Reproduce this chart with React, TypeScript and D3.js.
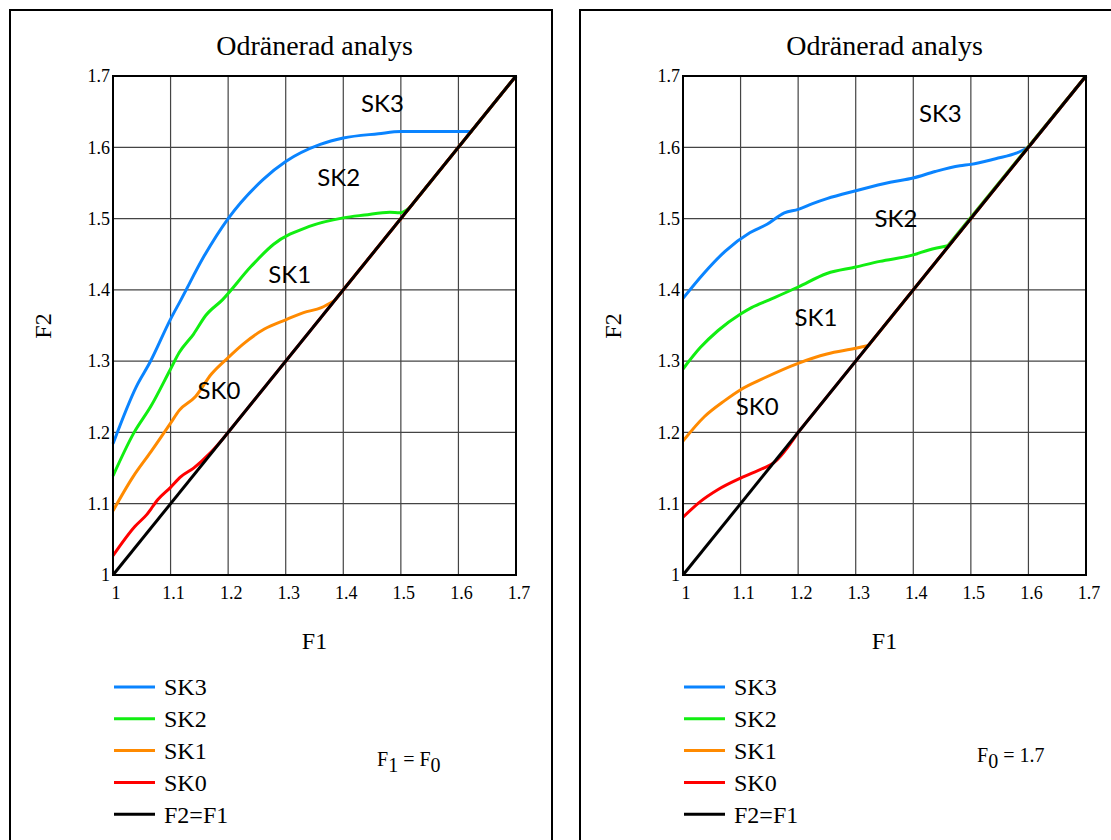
import * as d3 from 'd3'

type Pt = [number, number]

// F1 ticks shared by both panels
const ticks = [1, 1.1, 1.2, 1.3, 1.4, 1.5, 1.6, 1.7]
const seriesNames = ['SK3', 'SK2', 'SK1', 'SK0', 'F2=F1']
const seriesColors = ['#0a84ff', '#11ee11', '#ff8a00', '#ff0000', '#000000']

// left panel: F1 = F0 (last point: the curve follows F2=F1 up to 1.7)
const leftSK3: Pt[] = [[1, 1.184], [1.041, 1.265], [1.064, 1.298], [1.1, 1.359], [1.118, 1.386], [1.158, 1.447], [1.2, 1.5], [1.261, 1.555], [1.3, 1.58], [1.36, 1.604], [1.4, 1.613], [1.461, 1.619], [1.5, 1.622], [1.617, 1.622], [1.622, 1.622], [1.7, 1.7]]
const leftSK2: Pt[] = [[1, 1.139], [1.036, 1.199], [1.066, 1.237], [1.1, 1.289], [1.115, 1.312], [1.14, 1.338], [1.161, 1.364], [1.19, 1.386], [1.24, 1.433], [1.279, 1.464], [1.341, 1.489], [1.4, 1.501], [1.437, 1.505], [1.481, 1.509], [1.498, 1.508], [1.515, 1.515], [1.7, 1.7]]
const leftSK1: Pt[] = [[1, 1.09], [1.035, 1.138], [1.066, 1.173], [1.1, 1.213], [1.115, 1.231], [1.143, 1.25], [1.171, 1.282], [1.2, 1.305], [1.226, 1.324], [1.263, 1.345], [1.3, 1.358], [1.331, 1.368], [1.362, 1.375], [1.385, 1.385], [1.7, 1.7]]
const leftSK0: Pt[] = [[1, 1.027], [1.038, 1.068], [1.059, 1.085], [1.078, 1.106], [1.1, 1.123], [1.118, 1.138], [1.14, 1.15], [1.17, 1.172], [1.2, 1.2], [1.7, 1.7]]

// right panel: F0 = 1.7
const rightSK3: Pt[] = [[1, 1.388], [1.036, 1.423], [1.073, 1.454], [1.116, 1.48], [1.146, 1.492], [1.176, 1.508], [1.2, 1.513], [1.225, 1.521], [1.25, 1.528], [1.3, 1.539], [1.36, 1.551], [1.4, 1.557], [1.438, 1.566], [1.481, 1.574], [1.5, 1.576], [1.543, 1.584], [1.58, 1.592], [1.6, 1.6], [1.7, 1.7]]
const rightSK2: Pt[] = [[1, 1.289], [1.03, 1.319], [1.061, 1.343], [1.1, 1.366], [1.119, 1.375], [1.15, 1.386], [1.2, 1.404], [1.25, 1.423], [1.3, 1.432], [1.342, 1.44], [1.4, 1.449], [1.427, 1.456], [1.46, 1.462], [1.7, 1.7]]
const rightSK1: Pt[] = [[1, 1.188], [1.037, 1.222], [1.073, 1.245], [1.1, 1.26], [1.14, 1.276], [1.2, 1.297], [1.25, 1.31], [1.3, 1.318], [1.322, 1.322], [1.7, 1.7]]
const rightSK0: Pt[] = [[1, 1.081], [1.03, 1.103], [1.061, 1.12], [1.1, 1.136], [1.14, 1.15], [1.157, 1.157], [1.2, 1.2], [1.7, 1.7]]

const diagonal: Pt[] = [[1, 1], [1.7, 1.7]]

interface PanelProps {
  x0: number
  series: Pt[][]
  labels: { text: string; at: Pt }[]
  note: { main: string; sub: string; rest: string; sub2?: string; x: number; y: number }
}

const serif = '"Liberation Serif", "Times New Roman", serif'

function Panel({ x0, series, labels, note }: PanelProps) {
  const left = x0
  const right = x0 + 403
  const top = 76
  const bottom = 575
  const x = d3.scaleLinear().domain([1, 1.7]).range([left, right])
  const y = d3.scaleLinear().domain([1, 1.7]).range([bottom, top])
  const smooth = d3.line<Pt>().x(d => x(d[0])).y(d => y(d[1])).curve(d3.curveMonotoneX)
  const straight = d3.line<Pt>().x(d => x(d[0])).y(d => y(d[1]))
  const cx = (left + right) / 2

  return (
    <g>
      <text x={cx} y={55} textAnchor="middle" fontFamily={serif} fontSize={28}>Odränerad analys</text>
      {ticks.slice(1, -1).map(t => (
        <g key={'g' + t}>
          <line x1={x(t)} x2={x(t)} y1={top} y2={bottom} stroke="#444" strokeWidth={1.2} />
          <line x1={left} x2={right} y1={y(t)} y2={y(t)} stroke="#444" strokeWidth={1.2} />
        </g>
      ))}
      {ticks.map(t => (
        <g key={'t' + t}>
          <text x={left - 3} y={y(t)} dy="0.35em" textAnchor="end" fontFamily={serif} fontSize={18}>{t}</text>
          <text x={x(t) + 3} y={599} textAnchor="middle" fontFamily={serif} fontSize={18}>{t}</text>
        </g>
      ))}
      {series.map((s, i) => (
        <g key={i}>
          <path d={smooth(s.slice(0, -1)) ?? ''} fill="none" stroke={seriesColors[i]} strokeWidth={3} />
          <path d={straight(s.slice(-2)) ?? ''} fill="none" stroke={seriesColors[i]} strokeWidth={3} />
        </g>
      ))}
      <path d={straight(diagonal) ?? ''} fill="none" stroke="#000" strokeWidth={3} />
      <rect x={left} y={top} width={right - left} height={bottom - top} fill="none" stroke="#000" strokeWidth={2} />
      {labels.map(l => (
        <text key={l.text} x={x(l.at[0])} y={y(l.at[1])} dy="0.35em" textAnchor="middle" fontFamily="Lato, 'Open Sans', sans-serif" fontSize={24}>{l.text}</text>
      ))}
      <text x={x0 - 70} y={326} textAnchor="middle" fontFamily={serif} fontSize={24} transform={`rotate(-90 ${x0 - 70} 326)`} dy="0.35em">F2</text>
      <text x={cx} y={649} textAnchor="middle" fontFamily={serif} fontSize={24}>F1</text>
      {seriesNames.map((n, i) => (
        <g key={n}>
          <line x1={x0 + 1} x2={x0 + 42} y1={687 + i * 31.8} y2={687 + i * 31.8} stroke={seriesColors[i]} strokeWidth={3} />
          <text x={x0 + 51} y={687 + i * 31.8} dy="0.35em" fontFamily={serif} fontSize={24}>{n}</text>
        </g>
      ))}
      <text x={note.x} y={note.y} fontFamily={serif} fontSize={20}>
        {note.main}
        <tspan dy={6}>{note.sub}</tspan>
        <tspan dy={-6}>{note.rest}</tspan>
        {note.sub2 ? <tspan dy={6}>{note.sub2}</tspan> : null}
      </text>
    </g>
  )
}

export default function App() {
  return (
    <svg width={1111} height={840} style={{ position: 'absolute', left: 0, top: 0, background: '#fff' }}>
      <rect x={0} y={0} width={1111} height={840} fill="#fff" />
      <rect x={10} y={10} width={542} height={850} fill="none" stroke="#000" strokeWidth={2} />
      <rect x={580} y={10} width={560} height={850} fill="none" stroke="#000" strokeWidth={2} />
      <Panel
        x0={113}
        series={[leftSK3, leftSK2, leftSK1, leftSK0]}
        labels={[
          { text: 'SK3', at: [1.468, 1.661] },
          { text: 'SK2', at: [1.392, 1.557] },
          { text: 'SK1', at: [1.307, 1.421] },
          { text: 'SK0', at: [1.184, 1.259] }
        ]}
        note={{ main: 'F', sub: '1', rest: ' = F', sub2: '0', x: 377, y: 766 }}
      />
      <Panel
        x0={683}
        series={[rightSK3, rightSK2, rightSK1, rightSK0]}
        labels={[
          { text: 'SK3', at: [1.447, 1.647] },
          { text: 'SK2', at: [1.37, 1.5] },
          { text: 'SK1', at: [1.231, 1.361] },
          { text: 'SK0', at: [1.129, 1.236] }
        ]}
        note={{ main: 'F', sub: '0', rest: ' = 1.7', x: 977, y: 762 }}
      />
    </svg>
  )
}
